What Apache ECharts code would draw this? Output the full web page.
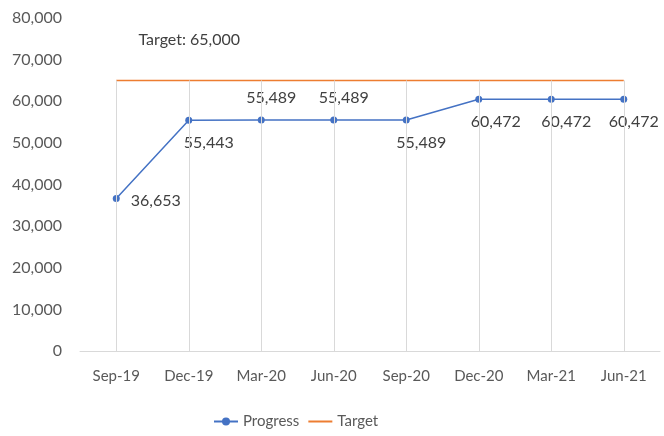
<!DOCTYPE html>
<html>
<head>
<meta charset="utf-8">
<script src="https://cdn.jsdelivr.net/npm/echarts@6/dist/echarts.min.js"></script>
<style>
    html, body { margin: 0; padding: 0; background: #fff; }
    #chart { width: 664px; height: 436px; }
</style>
</head>
<body>
<div id="chart"></div>
<script>
    // data
    const categories = ['Sep-19', 'Dec-19', 'Mar-20', 'Jun-20', 'Sep-20', 'Dec-20', 'Mar-21', 'Jun-21']
    const progress = [36653, 55443, 55489, 55489, 55489, 60472, 60472, 60472]
    const target = [65000, 65000, 65000, 65000, 65000, 65000, 65000, 65000]
    const targetLabel = 'Target: 65,000'
    // where each progress label sits
    const labelSide = ['right', 'bottom', 'top', 'top', 'bottom', 'bottom', 'bottom', 'bottom']
    const labelShift = [0, 20, 10, 10, 15, 17, 15, 10]

    const font = 'Lato, "Liberation Sans", sans-serif'
    const textColor = '#595959'

    const chart = echarts.init(document.getElementById('chart'))

    // vertical lines from 0 up to the target at every category
    const dropLines = categories.map(function (c, i) {
        return [{ coord: [c, 0] }, { coord: [c, target[i]] }]
    })

    const option = {
        animation: false,
        textStyle: { fontFamily: font },
        grid: { left: 80, right: 4, top: 18, bottom: 85 },
        legend: {
            bottom: 2,
            left: 208,
            itemWidth: 24,
            itemHeight: 10,
            itemGap: 8,
            textStyle: { fontSize: 15, color: textColor, fontFamily: font },
            data: [
                'Progress',
                { name: 'Target', itemStyle: { color: 'rgba(0,0,0,0)', borderWidth: 0 } }
            ]
        },
        xAxis: {
            type: 'category',
            data: categories,
            boundaryGap: true,
            axisTick: { show: false },
            axisLine: { lineStyle: { color: '#D9D9D9', width: 1 } },
            axisLabel: { color: textColor, fontSize: 15, margin: 18, fontFamily: font },
            splitLine: { show: false }
        },
        yAxis: {
            type: 'value',
            min: 0,
            max: 80000,
            interval: 10000,
            axisLine: { show: false },
            axisTick: { show: false },
            splitLine: { show: false },
            axisLabel: {
                color: textColor,
                fontSize: 16,
                margin: 18,
                fontFamily: font,
                formatter: function (v) { return v.toLocaleString('en-US') }
            }
        },
        series: [
            {
                name: 'Progress',
                type: 'line',
                data: progress.map(function (v, i) {
                    return {
                        value: v,
                        label: {
                            position: labelSide[i],
                            offset: labelSide[i] === 'right' ? [0, 2] : [labelShift[i], 0]
                        }
                    }
                }),
                symbol: 'circle',
                symbolSize: 7,
                z: 4,
                lineStyle: { color: '#4472C4', width: 1.5 },
                itemStyle: { color: '#4472C4' },
                label: {
                    show: true,
                    fontSize: 16,
                    color: '#404040',
                    fontFamily: font,
                    distance: 11,
                    formatter: function (p) { return p.value.toLocaleString('en-US') }
                }
            },
            {
                name: 'Target',
                type: 'line',
                data: target,
                showSymbol: false,
                symbol: 'none',
                z: 2,
                lineStyle: { color: '#ED7D31', width: 1.5 },
                itemStyle: { color: '#ED7D31' },
                markLine: {
                    silent: true,
                    symbol: 'none',
                    label: { show: false },
                    lineStyle: { color: '#D9D9D9', width: 1, type: 'solid' },
                    data: dropLines
                },
                markPoint: {
                    silent: true,
                    symbol: 'circle',
                    symbolSize: 1,
                    itemStyle: { color: 'rgba(0,0,0,0)' },
                    data: [{ coord: [categories[0], target[0]] }],
                    label: {
                        show: true,
                        formatter: targetLabel,
                        position: 'inside',
                        offset: [73, -41],
                        fontSize: 16,
                        color: '#404040',
                        fontFamily: font
                    }
                }
            }
        ]
    }

    chart.setOption(option)
    window.addEventListener('resize', () => {
        chart.resize()
    })
</script>
</body>
</html>
